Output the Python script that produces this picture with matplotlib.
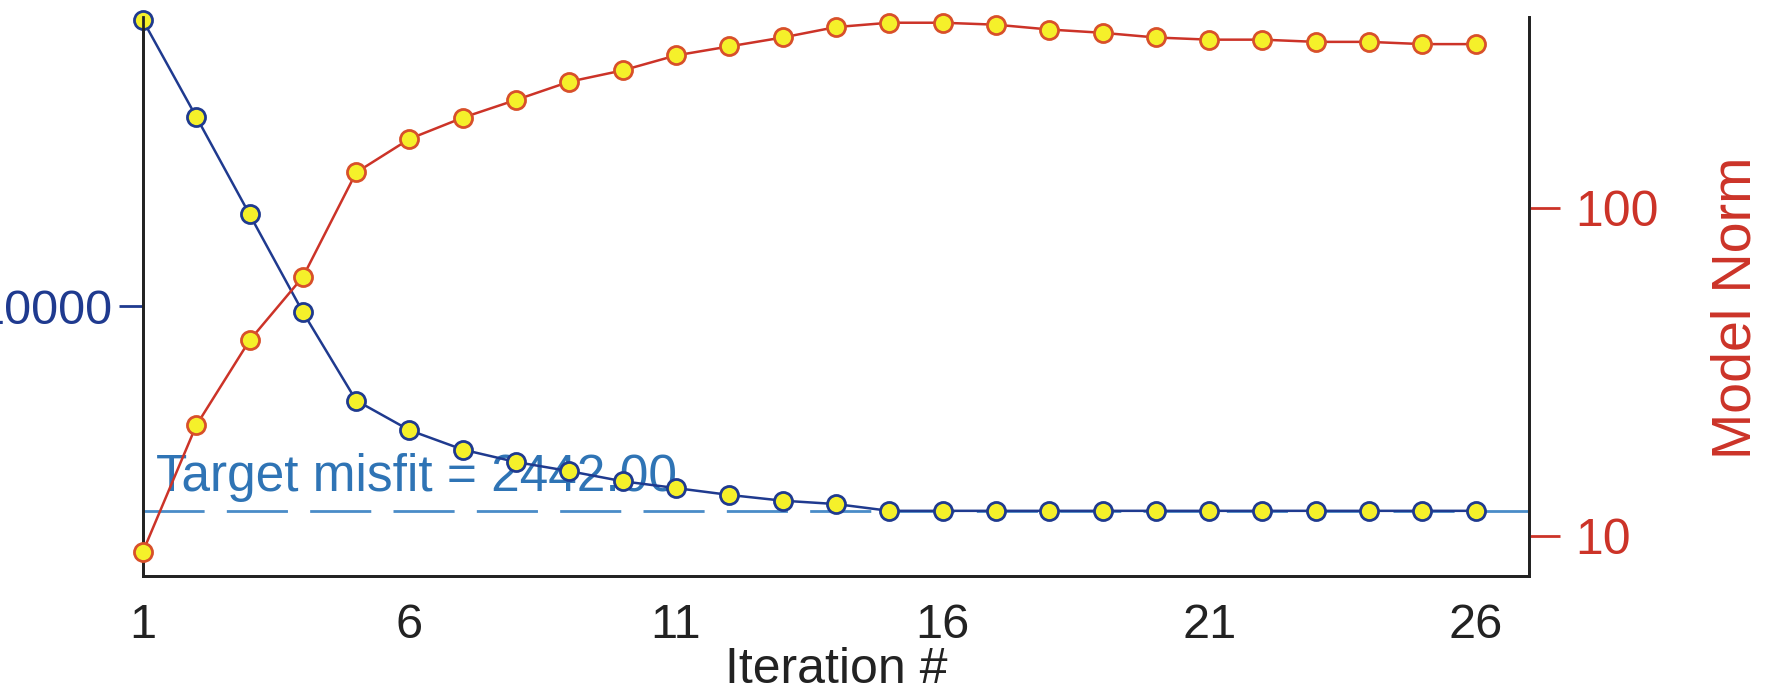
import matplotlib
matplotlib.use("Agg")
import matplotlib.pyplot as plt

iterations = list(range(1, 27))
misfit = [71950, 36990, 18870, 9616, 5226, 4258, 3725, 3419, 3211, 2994, 2857,
          2725, 2619, 2559, 2442, 2442, 2442, 2442, 2442, 2442, 2442, 2442,
          2442, 2442, 2442, 2442]
model_norm = [8.95, 21.7, 39.4, 61.5, 128, 162, 188, 213, 242, 262, 291, 310,
              330, 355, 366, 366, 361, 349, 341, 330, 325, 325, 320, 320, 315, 315]
target_misfit = 2442.00
x_ticks = [1, 6, 11, 16, 21, 26]
left_ticks = [10000]
right_ticks = [10, 100]

sans = ['Liberation Sans', 'DejaVu Sans']

BLUE = '#1f3a8f'
RED = '#cc3328'
TBLUE = '#2f74b5'

fig = plt.figure(figsize=(17.8, 6.94), dpi=100)
ax = fig.add_axes([0.0803, 0.1707, 0.859 - 0.0803, 0.9755 - 0.1707])
ax2 = ax.twinx()

ax.set_yscale('log')
ax2.set_yscale('log')
ax.set_xlim(1, 27)
ax.set_ylim(1563, 73600)
ax2.set_ylim(7.57, 381)

ax.axhline(target_misfit, color='#4a8cc8', lw=2.0, dashes=(22, 8), zorder=1)
ax.plot(iterations, misfit, color=BLUE, lw=1.8, marker='o', ms=13,
        mfc='#f5f02a', mec=BLUE, mew=2.0, clip_on=False, zorder=3)
ax2.plot(iterations, model_norm, color=RED, lw=1.8, marker='o', ms=13,
         mfc='#f5f02a', mec='#d8502a', mew=2.0, clip_on=False, zorder=3)

ax.text(1.25, target_misfit * 1.06, 'Target misfit = 2442.00', color=TBLUE,
        fontsize=37, family=sans, va='bottom', ha='left', zorder=2)

for a in (ax, ax2):
    a.spines['top'].set_visible(False)
    for s in ('left', 'right', 'bottom'):
        a.spines[s].set_linewidth(2)
        a.spines[s].set_color('#222222')
    a.minorticks_off()

ax.set_xticks(x_ticks)
ax.set_xticklabels([str(t) for t in x_ticks], family=sans, fontsize=35)
ax.tick_params(axis='x', length=0, pad=20, colors='#222222')

ax.set_yticks(left_ticks)
ax.set_yticklabels(['10000'], family=sans, fontsize=35, color=BLUE)
ax.tick_params(axis='y', which='major', length=17, width=2, color=BLUE, pad=5)
ax.tick_params(axis='y', which='minor', length=0)

ax2.set_yticks(right_ticks)
ax2.set_yticklabels(['10', '100'], family=sans, fontsize=36, color=RED)
ax2.tick_params(axis='y', which='major', length=22, width=2, color=RED, pad=11)
ax2.tick_params(axis='y', which='minor', length=0)

ax.set_xlabel('Iteration #', family=sans, fontsize=36, color='#222222', labelpad=-1)
ax2.set_ylabel('Model Norm', family=sans, fontsize=40, color=RED, rotation=90)
ax2.yaxis.set_label_coords(1.131, 0.48)

fig.savefig('out.png', dpi=100, facecolor='white')
